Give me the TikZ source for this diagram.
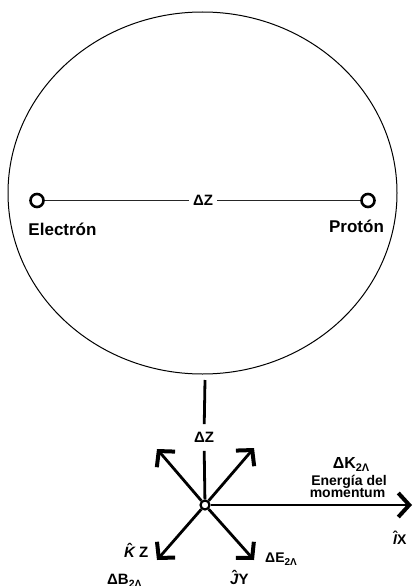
\documentclass[tikz,border=0pt]{standalone}
\usepackage{fontspec}
\setmainfont{Liberation Sans}
\usetikzlibrary{arrows.meta,shapes.geometric}
\newcommand\hatlet[1]{\setbox0\hbox{\itshape #1}\hbox{\rlap{\hbox to\wd0{\hss\raisebox{0.2em}{\upshape\char"02C6}\hss}}\box0}}
\newcommand\fs[1]{\fontsize{#1}{#1}\selectfont}
\newcommand\subl[2]{\raisebox{-0.22em}{\fs{#1}#2}}
\tikzset{
  lbl/.style={font=\bfseries\fs{17}, inner sep=0pt, anchor=base},
  small/.style={font=\bfseries\fs{15}, inner sep=1pt},
  dot/.style={circle, draw, line width=2.6pt, minimum size=13pt, inner sep=0pt, fill=white},
  thin/.style={line width=0.9pt, draw=black!85},
  shaft/.style={line width=2.8pt},
  arr/.style={line width=2.8pt, -{Straight Barb[length=11pt,width=24pt,line width=4pt]}},
  txt/.style={font=\bfseries\fs{15}, inner sep=0pt, anchor=base west},
}
\begin{document}
\begin{tikzpicture}[x=1pt,y=-1pt]
\useasboundingbox (0,0) rectangle (415,586);
% atom
\node[ellipse, draw, line width=1pt, minimum width=389pt, minimum height=362pt, inner sep=0pt] (atom) at (202.5,193) {};
\node[dot] (e) at (37,200.5) {};
\node[dot] (p) at (368,200.5) {};
\node[small, fill=white, inner sep=4pt] (dz1) at (203,200.5) {ΔZ};
\draw[thin] (e) -- (dz1);
\draw[thin] (dz1) -- (p);
\node[lbl] (el) at (62.5,235) {Electrón};
\node[lbl] (pl) at (356.5,232) {Protón};
% axes
\coordinate (vtop) at (205,380);
\node[small, inner sep=8pt] (dz2) at (204,437.5) {ΔZ};
\node[circle, draw, line width=2.2pt, minimum size=9pt, inner sep=0pt, fill=white] (c) at (205,505) {};
\coordinate (ul) at (157,449);
\coordinate (ur) at (254,448);
\coordinate (ll) at (157,560);
\coordinate (lr) at (254,560);
\coordinate (rx) at (412,505);
\draw[shaft] (vtop) -- (dz2);
\draw[shaft] (dz2) -- (c);
\draw[arr] (c) -- (ul);
\draw[arr] (c) -- (ur);
\draw[arr] (c) -- (ll);
\draw[arr] (c) -- (lr);
\draw[arr] (c) -- (rx);
% labels
\node[txt, font=\bfseries\fs{16}, anchor=base] (dk) at (351,468) {ΔK\subl{11}{2Λ}};
\node[font=\bfseries\fs{14}, inner sep=0pt, anchor=base] (en1) at (349,485) {Energía del};
\node[font=\bfseries\fs{14}, inner sep=0pt, anchor=base] (en2) at (347.5,497) {momentum};
\node[txt, font=\bfseries\fs{14}] (ix) at (393,544) {\hatlet{I}X};
\node[txt] (kz) at (124,557) {\hatlet{K} Z};
\node[txt, font=\bfseries\fs{14}] (de) at (265,562) {ΔE\subl{10}{2Λ}};
\node[txt] (db) at (107,584) {ΔB\subl{10.5}{2Λ}};
\node[txt] (jy) at (230,584) {\hatlet{J}Y};
\end{tikzpicture}
\end{document}
